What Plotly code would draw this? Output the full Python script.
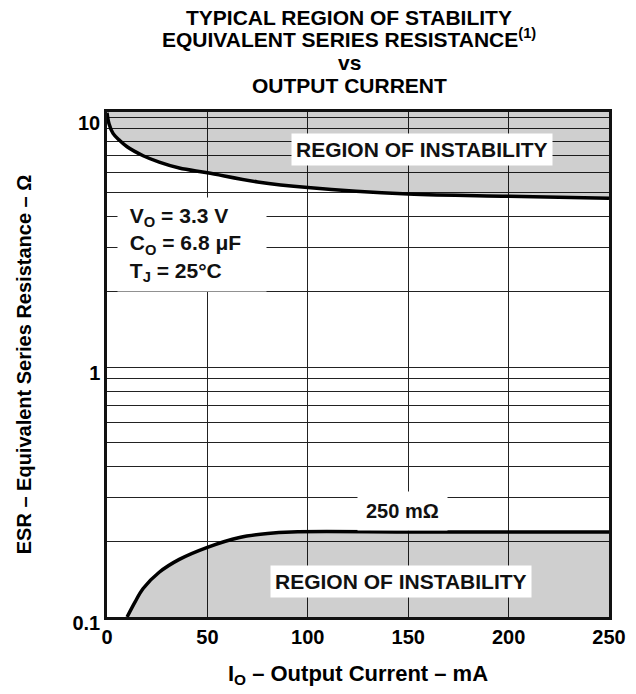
import math
import plotly.graph_objects as go

# ---- data ----
x_upper = [0, 1, 3, 6, 10, 18, 26, 36, 50, 75, 100, 150, 200, 250]
esr_upper = [10.4, 9.4, 8.6, 8.1, 7.6, 7.0, 6.6, 6.25, 5.98, 5.5, 5.22, 4.92, 4.82, 4.73]

x_lower = [10, 14, 18, 26, 36, 50, 66, 80, 92, 150, 200, 250]
esr_lower = [0.1, 0.115, 0.13, 0.151, 0.17, 0.19, 0.208, 0.216, 0.219, 0.219, 0.219, 0.219]

x_ticks = [0, 50, 100, 150, 200, 250]
y_grid = [0.1, 0.2, 0.3, 0.4, 0.5, 0.6, 0.7, 0.8, 0.9,
          1, 2, 3, 4, 5, 6, 7, 8, 9, 10]
y_labels = {0.1: "0.1", 1: "1", 10: "10"}

title_lines = ["TYPICAL REGION OF STABILITY",
               "EQUIVALENT SERIES RESISTANCE<sup>(1)</sup>",
               "vs",
               "OUTPUT CURRENT"]

Y_TOP = 10 ** 1.02
Y_BOT = 0.1

FONT = "Liberation Sans, Arial, Helvetica, sans-serif"
FILL = "rgba(0,0,0,0.19)"

fig = go.Figure()

# upper region of instability (curve to top of plot)
fig.add_trace(go.Scatter(x=x_upper, y=[Y_TOP] * len(x_upper), mode="lines",
                         line=dict(width=0, color="rgba(0,0,0,0)"),
                         hoverinfo="skip", showlegend=False))
fig.add_trace(go.Scatter(x=x_upper, y=esr_upper, mode="lines",
                         line=dict(color="black", width=3.5, shape="spline"),
                         fill="tonexty", fillcolor=FILL, showlegend=False))

# lower region of instability (curve to bottom of plot)
fig.add_trace(go.Scatter(x=x_lower, y=[Y_BOT] * len(x_lower), mode="lines",
                         line=dict(width=0, color="rgba(0,0,0,0)"),
                         hoverinfo="skip", showlegend=False))
fig.add_trace(go.Scatter(x=x_lower, y=esr_lower, mode="lines",
                         line=dict(color="black", width=3.5, shape="spline"),
                         fill="tonexty", fillcolor=FILL, showlegend=False))

tickfont = dict(family=FONT, size=20, color="black", weight="bold")

fig.update_xaxes(range=[0, 250], tickvals=x_ticks, ticktext=[str(v) for v in x_ticks],
                 showgrid=True, gridcolor="#222", gridwidth=1.2, zeroline=False,
                 showline=True, mirror=True, linecolor="#111", linewidth=2.5,
                 ticks="", tickfont=tickfont, automargin=False,
                 title=dict(text="I<sub>O</sub> – Output Current – mA",
                            font=dict(family=FONT, size=22, color="black", weight="bold"),
                            standoff=19))
fig.update_yaxes(type="log", range=[-1, 1.02], tickvals=y_grid,
                 ticktext=[y_labels.get(v, "") for v in y_grid],
                 showgrid=True, gridcolor="#222", gridwidth=1.2, zeroline=False,
                 showline=True, mirror=True, linecolor="#111", linewidth=2.5,
                 ticks="", tickfont=tickfont, ticklabelshift=6, automargin=False,
                 title=dict(text="ESR – Equivalent Series Resistance – Ω",
                            font=dict(family=FONT, size=20, color="black", weight="bold"),
                            standoff=36))

ann_font = dict(family=FONT, size=21, color="#111")
L = math.log10
fig.add_annotation(x=157, y=L(7.38), text="<b>REGION OF INSTABILITY</b>", showarrow=False,
                   bgcolor="white", borderpad=4, font=ann_font,
                   xanchor="center", yanchor="middle")
fig.add_annotation(x=146.5, y=L(0.139), text="<b>REGION OF INSTABILITY</b>", showarrow=False,
                   bgcolor="white", borderpad=4, font=ann_font,
                   xanchor="center", yanchor="middle")
fig.add_annotation(x=147, y=L(0.265), text="<b>250 mΩ</b>", showarrow=False,
                   bgcolor="white", borderpad=8, font=dict(family=FONT, size=20, color="#111"),
                   xanchor="center", yanchor="middle")
fig.add_annotation(x=5, y=L(3.1),
                   text="<b>&nbsp;V<sub>O</sub> = 3.3 V<br>&nbsp;C<sub>O</sub> = 6.8 μF<br>&nbsp;T<sub>J</sub> = 25°C</b>",
                   showarrow=False, align="left", width=136,
                   bgcolor="white", borderpad=6, font=ann_font,
                   xanchor="left", yanchor="middle")

# title, one annotation per line
PLOT_TOP, PLOT_H = 112, 505
for line, ypx in zip(title_lines, [17, 38, 63, 86]):
    fig.add_annotation(xref="paper", yref="paper",
                       x=(349 - 107) / 502, y=(PLOT_TOP + PLOT_H - ypx) / PLOT_H,
                       text=f"<b>{line}</b>", showarrow=False,
                       font=dict(family=FONT, size=21, color="black"),
                       xanchor="center", yanchor="middle")

fig.update_layout(
    width=636, height=694,
    margin=dict(l=107, r=27, t=112, b=77, autoexpand=False),
    paper_bgcolor="white", plot_bgcolor="white",
    showlegend=False,
)

fig.write_html("out.html", config={"displayModeBar": False},
               post_script="document.body.style.margin='0';document.body.style.overflow='hidden';")
